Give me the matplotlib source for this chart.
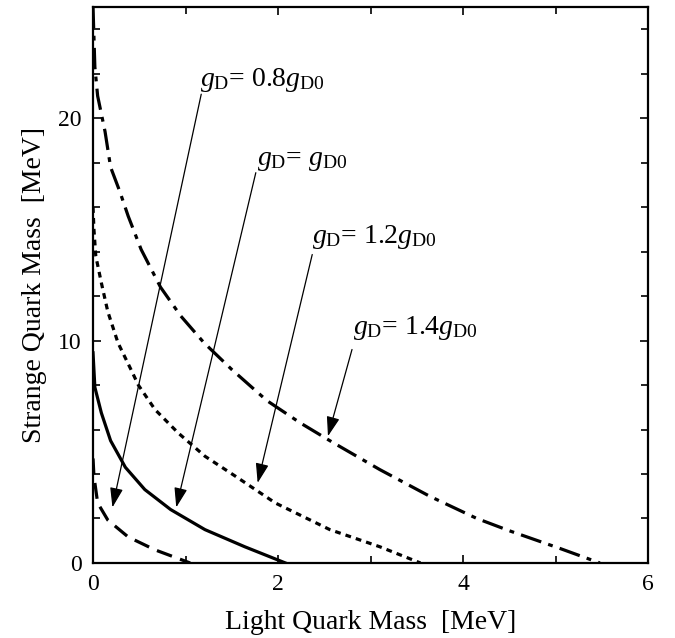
import numpy as np
import matplotlib
matplotlib.use("Agg")
import matplotlib.pyplot as plt

plt.rcParams['font.family'] = ['Liberation Serif', 'DejaVu Serif']
plt.rcParams['mathtext.fontset'] = 'custom'
plt.rcParams['mathtext.rm'] = 'Liberation Serif'
plt.rcParams['mathtext.it'] = 'Liberation Serif:italic'

# curves (light quark mass, strange quark mass) in MeV
x_08 = [0.0, 0.01, 0.05, 0.16, 0.38, 0.67, 1.05]
y_08 = [4.7, 3.9, 2.7, 1.93, 1.17, 0.59, 0.0]

x_10 = [0.0, 0.02, 0.09, 0.19, 0.35, 0.56, 0.84, 1.21, 1.64, 2.08]
y_10 = [9.45, 7.9, 6.75, 5.5, 4.3, 3.3, 2.4, 1.5, 0.73, 0.0]

x_12 = [0.0, 0.01, 0.03, 0.09, 0.16, 0.27, 0.41, 0.49, 0.67, 0.92, 1.21,
        1.54, 1.97, 2.56, 3.1, 3.54]
y_12 = [16.0, 15.0, 13.8, 12.6, 11.3, 9.9, 8.7, 8.0, 6.9, 5.85, 4.8,
        3.9, 2.7, 1.5, 0.73, 0.0]

x_14 = [0.0, 0.02, 0.05, 0.13, 0.19, 0.29, 0.38, 0.52, 0.73, 0.95, 1.2,
        1.5, 1.88, 2.24, 2.58, 3.1, 3.64, 4.15, 4.5, 5.05, 5.48]
y_14 = [25.0, 22.3, 21.0, 19.4, 17.8, 16.7, 15.6, 14.1, 12.4, 11.1, 9.9,
        8.7, 7.3, 6.3, 5.45, 4.2, 3.0, 2.0, 1.45, 0.65, 0.0]

labels = [r'$g_{\rm D}$= 0.8$g_{\rm D0}$', r'$g_{\rm D}$= $g_{\rm D0}$',
          r'$g_{\rm D}$= 1.2$g_{\rm D0}$', r'$g_{\rm D}$= 1.4$g_{\rm D0}$']
label_xy = [(1.16, 21.45), (1.77, 17.9), (2.37, 14.4), (2.81, 10.3)]
arrow_start = [(1.17, 21.08), (1.76, 17.55), (2.37, 13.87), (2.8, 9.6)]
arrow_tip = [(0.21, 2.5), (0.9, 2.5), (1.78, 3.6), (2.54, 5.7)]

fig = plt.figure(figsize=(6.75, 6.38), dpi=100)
ax = fig.add_axes([0.1378, 0.1176, 0.8222, 0.8714])

lw = 2.3
ax.plot(x_08, y_08, color='black', lw=lw, linestyle=(0, (5, 2.7)))
ax.plot(x_10, y_10, color='black', lw=lw, linestyle='-')
ax.plot(x_12, y_12, color='black', lw=lw, linestyle=(0, (1.8, 1.6)))
ax.plot(x_14, y_14, color='black', lw=lw, linestyle=(0, (6.7, 2.3, 1.5, 2.3)))

for lab, (tx, ty), s, t in zip(labels, label_xy, arrow_start, arrow_tip):
    ax.text(tx, ty, lab, fontsize=20, ha='left', va='baseline')
    ax.annotate('', xy=t, xytext=s,
                arrowprops=dict(arrowstyle='-|>,head_length=1.2,head_width=0.4',
                                color='black', lw=0.9, shrinkA=0, shrinkB=0))

ax.set_xlim(0, 6)
ax.set_ylim(0, 25)
ax.set_xticks([0, 2, 4, 6])
ax.set_xticks([1, 3, 5], minor=True)
ax.set_yticks([0, 10, 20])
ax.set_yticks([2, 4, 6, 8, 12, 14, 16, 18, 22, 24], minor=True)
ax.tick_params(which='both', direction='in', top=True, right=True, labelsize=17,
               width=1.2, pad=8)
ax.tick_params(which='major', length=6)
ax.tick_params(which='minor', length=5)
for sp in ax.spines.values():
    sp.set_linewidth(1.6)

ax.set_xlabel('Light Quark Mass  [MeV]', fontsize=20, labelpad=11)
ax.set_ylabel('Strange Quark Mass  [MeV]', fontsize=20, labelpad=8)

fig.savefig('out.png', dpi=100)
